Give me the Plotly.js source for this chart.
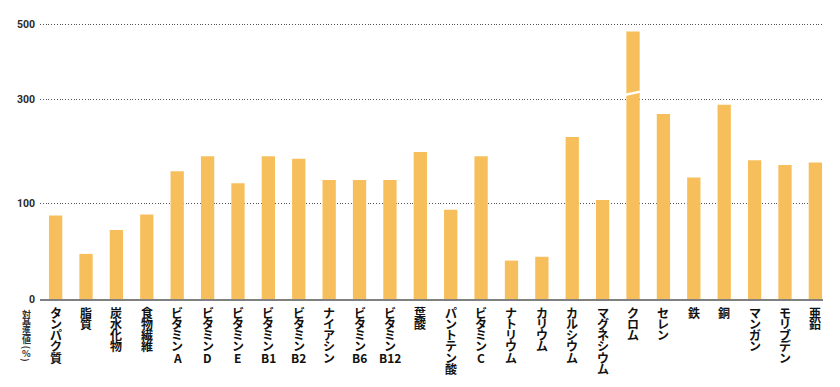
<!DOCTYPE html>
<html>
<head>
<meta charset="utf-8">
<script src="https://cdn.plot.ly/plotly-3.0.1.min.js"></script>
<style>html,body{margin:0;padding:0;background:#fff;}</style>
</head>
<body>
<div id="chart" style="width:840px;height:387px;"></div>
<script>
// ---- data ----
const nutrients = ['タンパク質','脂質','炭水化物','食物繊維','ビタミンA','ビタミンD','ビタミンE','ビタミンB1','ビタミンB2','ナイアシン','ビタミンB6','ビタミンB12','葉酸','パントテン酸','ビタミンC','ナトリウム','カリウム','カルシウム','マグネシウム','クロム','セレン','鉄','銅','マンガン','モリブデン','亜鉛'];
const percentOfStandard = [87, 47, 72, 88, 161, 190, 138, 190, 185, 144, 144, 144, 198, 93, 190, 40, 44, 227, 106, 480, 271, 149, 289, 182, 173, 178];
const yTickValues = [0, 100, 300, 500];
const yTickLabels = ['0', '100', '300', '500'];
const yAxisTitle = '対基準値(%)';
const brokenBar = 'クロム';          // bar drawn with a break mark
const breakSpan = [310, 321];        // value span where the break mark crosses it

// ---- piecewise (compressed) value axis used by the original chart ----
const scaleDomain = [0, 100, 300, 500];
const scaleRange  = [0, 96, 200, 275];
function scaleY(v) {
  for (let i = 1; i < scaleDomain.length; i++) {
    if (v <= scaleDomain[i] || i === scaleDomain.length - 1) {
      const d0 = scaleDomain[i-1], d1 = scaleDomain[i];
      const r0 = scaleRange[i-1], r1 = scaleRange[i];
      return r0 + (v - d0) * (r1 - r0) / (d1 - d0);
    }
  }
}

const JP = '"Noto Sans CJK JP", "Noto Sans", sans-serif';
const barColor = '#F7BF5B';

const trace = {
  type: 'bar',
  x: nutrients,
  y: percentOfStandard.map(scaleY),
  customdata: percentOfStandard,
  hovertemplate: '%{x}: %{customdata}%<extra></extra>',
  marker: {color: barColor, line: {width: 0}},
};

// vertical (tategaki) category labels, one annotation per character cell
function cells(label) { return label.match(/[A-Za-z0-9%]+|./gu); }
const annotations = [];
nutrients.forEach((name, i) => {
  cells(name).forEach((c, k) => {
    annotations.push({
      xref: 'x', x: i, yref: 'paper', y: 0,
      xanchor: 'center', yanchor: 'middle',
      yshift: -(13.6 + 11.1 * k),
      text: c, showarrow: false,
      font: {family: JP, size: 12, color: '#111', weight: 700}
    });
  });
});

// vertical axis title
{
  let top = 310;
  cells(yAxisTitle).forEach((c) => {
    const isParen = (c === '(' || c === ')');
    const h = isParen ? 5.5 : (c === '%' ? 7 : 8.5);
    const centre = top + h / 2;
    top += h;
    annotations.push({
      xref: 'paper', x: 0, yref: 'paper', y: 0,
      xanchor: 'center', yanchor: 'middle',
      xshift: -14, yshift: -(centre - 299),
      text: c, showarrow: false, textangle: isParen ? 90 : 0,
      font: {family: JP, size: 9, color: '#333', weight: 700}
    });
  });
}

const bi = nutrients.indexOf(brokenBar);
const shapes = [{
  type: 'line', xref: 'x', yref: 'y', layer: 'above',
  x0: bi - 0.32, x1: bi + 0.32,
  y0: scaleY(breakSpan[0]), y1: scaleY(breakSpan[1]),
  line: {color: '#ffffff', width: 2.5}
}];

const layout = {
  width: 840, height: 387,
  margin: {l: 40, r: 17, t: 10, b: 88},
  paper_bgcolor: '#fff', plot_bgcolor: '#fff',
  showlegend: false,
  bargap: 0.562,
  xaxis: {
    type: 'category',
    range: [-0.5146, 25.251],
    showticklabels: false, ticks: '',
    showgrid: false, zeroline: false,
    showline: true, linecolor: '#808080', linewidth: 1.5,
    fixedrange: true
  },
  yaxis: {
    range: [0, 289],
    tickmode: 'array',
    tickvals: yTickValues.map(scaleY),
    ticktext: yTickLabels,
    ticks: '', ticklabelstandoff: 4,
    tickfont: {family: 'Roboto, "Liberation Sans", sans-serif', size: 10.5, color: '#2a2a2a', weight: 700},
    showgrid: true, gridcolor: '#555', gridwidth: 1, griddash: '1px,1.8px',
    zeroline: false, showline: false,
    fixedrange: true
  },
  annotations: annotations,
  shapes: shapes
};

Plotly.newPlot('chart', [trace], layout, {displayModeBar: false, staticPlot: true});
</script>
</body>
</html>
